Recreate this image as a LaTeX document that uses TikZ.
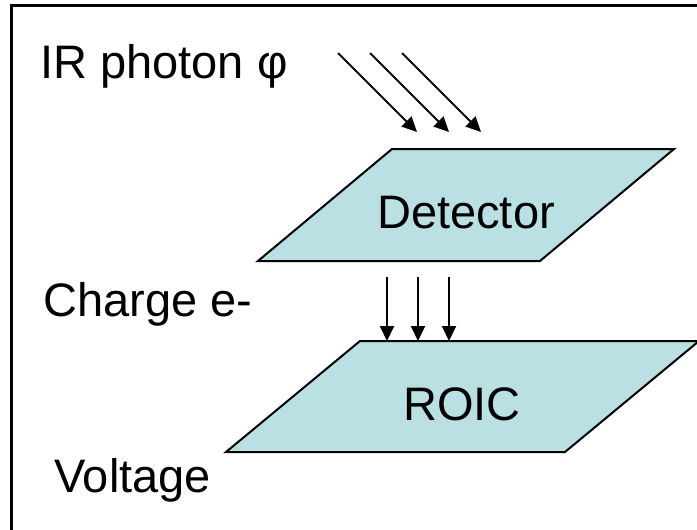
\documentclass[tikz,border=0pt]{standalone}
\usepackage{fontspec}
\setmainfont{Liberation Sans}
\usetikzlibrary{arrows.meta}
\definecolor{platecol}{HTML}{BBE0E3}

\begin{document}
\begin{tikzpicture}[
  x=1pt,y=-1pt,
  every node/.style={font=\fontsize{47}{56}\selectfont,inner sep=0pt},
  L/.style={anchor=base west},
  P/.style={draw=black,line width=2pt,fill=platecol,line join=miter},
  ar/.style={-{Triangle[length=15pt,width=14pt]},line width=2pt}
]
\useasboundingbox (0,0) rectangle (697,530);
% frame (only top and left show)
\draw[line width=3pt] (11,530) -- (11,5) -- (697,5);

% plates
\draw[P] (392,149) coordinate (d1) -- (674,149) coordinate (d2)
  -- (540,261) coordinate (d3) -- (258,261) coordinate (d4) -- cycle;
\draw[P] (360,341) coordinate (r1) -- (699,341) coordinate (r2)
  -- (565,452) coordinate (r3) -- (226,452) coordinate (r4) -- cycle;
\node[anchor=base](det) at (466,228){Detector};
\node[anchor=base](roic) at (462,420){ROIC};

% labels
\node[L](phot) at (40,78){IR photon φ};
\node[L](chg) at (43,316){Charge e-};
\node[L](volt) at (54,492){Voltage};

% photons in, charge down
\foreach \k/\x in {1/338,2/370,3/402}{
  \coordinate (s\k) at (\x,53);
  \coordinate (t\k) at (\x+79,132);
  \draw[ar](s\k)--(t\k);
}
\foreach \k/\x in {1/387,2/418,3/449}{
  \coordinate (e\k) at (\x,277);
  \coordinate (f\k) at (\x,341);
  \draw[ar](e\k)--(f\k);
}
\end{tikzpicture}
\end{document}
